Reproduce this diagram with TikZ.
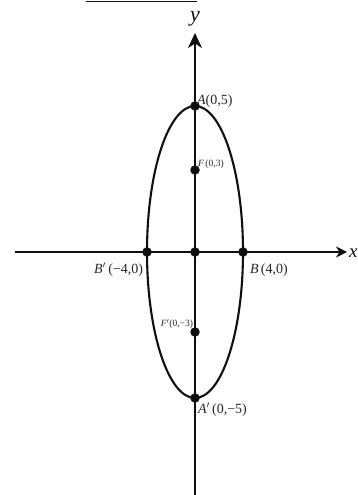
\documentclass[tikz,border=0pt]{standalone}
\usepackage{fontspec}
\setmainfont{Liberation Serif}
\usepackage{xcolor}
\usetikzlibrary{positioning,arrows.meta}

\begin{document}
\begin{tikzpicture}[x=1pt,y=1pt,
  axisline/.style={line width=2.1pt,draw=drawColor},
  curveline/.style={line width=2.1pt,draw=drawColor},
  dot/.style={circle,fill=drawColor,inner sep=0pt,minimum size=9.5pt},
  biglabel/.style={text=labelColor,inner sep=0pt,outer sep=0pt,font=\fontsize{14}{14}\selectfont},
  smalllabel/.style={text=labelColor,inner sep=0pt,outer sep=0pt,font=\fontsize{9.5}{9.5}\selectfont}]
\definecolor{drawColor}{RGB}{15,15,15}
\definecolor{labelColor}{RGB}{40,40,40}
\path[use as bounding box,fill=white] (0,0) rectangle (357,495);

% top rule
\coordinate (rulel) at ( 86,493.5);
\coordinate (ruler) at (197,493.5);
\draw[line width=1.2pt,draw=drawColor] (rulel) -- (ruler);

% axes
\coordinate (xl) at ( 15,243);
\coordinate (xr) at (347,243);
\coordinate (yb) at (195,  0);
\coordinate (yt) at (195,462);
\draw[axisline,-{Stealth[length=11pt,width=11pt,inset=3.5pt]}] (xl) -- (xr);
\draw[axisline,-{Stealth[length=15pt,width=14pt,inset=4.5pt]}] (yb) -- (yt);
\node[text=drawColor,anchor=west,inner sep=0pt,font=\fontsize{19}{19}\selectfont\itshape] (xlab) at (349,242) {x};
\node[text=drawColor,anchor=base,inner sep=0pt,font=\fontsize{22}{22}\selectfont\itshape] (ylab) at (195,473) {y};

% ellipse x^2/16 + y^2/25 = 1
\draw[curveline] (195,243) ellipse [x radius=48, y radius=146];

% points
\node[dot] (O)  at (195,243) {};
\node[dot] (A)  at (195,389) {};
\node[dot] (Ap) at (195, 97) {};
\node[dot] (F)  at (195,325) {};
\node[dot] (Fp) at (195,163) {};
\node[dot] (B)  at (243,243) {};
\node[dot] (Bp) at (147,243) {};

% labels
\node[biglabel,anchor=base west] (Alab) at (197,390) {\textit{A}(0,5)};
\node[smalllabel,anchor=base west] (Flab) at (198,328) {\textit{F}\,(0,3)};
\node[biglabel,anchor=base east] (Bplab) at (143,221) {\textit{B}$'$\,(−4,0)};
\node[biglabel,anchor=base west] (Blab) at (250,221) {\textit{B}\,(4,0)};
\node[smalllabel,anchor=base east] (Fplab) at (193,168) {\textit{F}$'$(0,−3)};
\node[biglabel,anchor=base west] (Aplab) at (198,81) {\textit{A}$'$\,(0,−5)};
\end{tikzpicture}
\end{document}
